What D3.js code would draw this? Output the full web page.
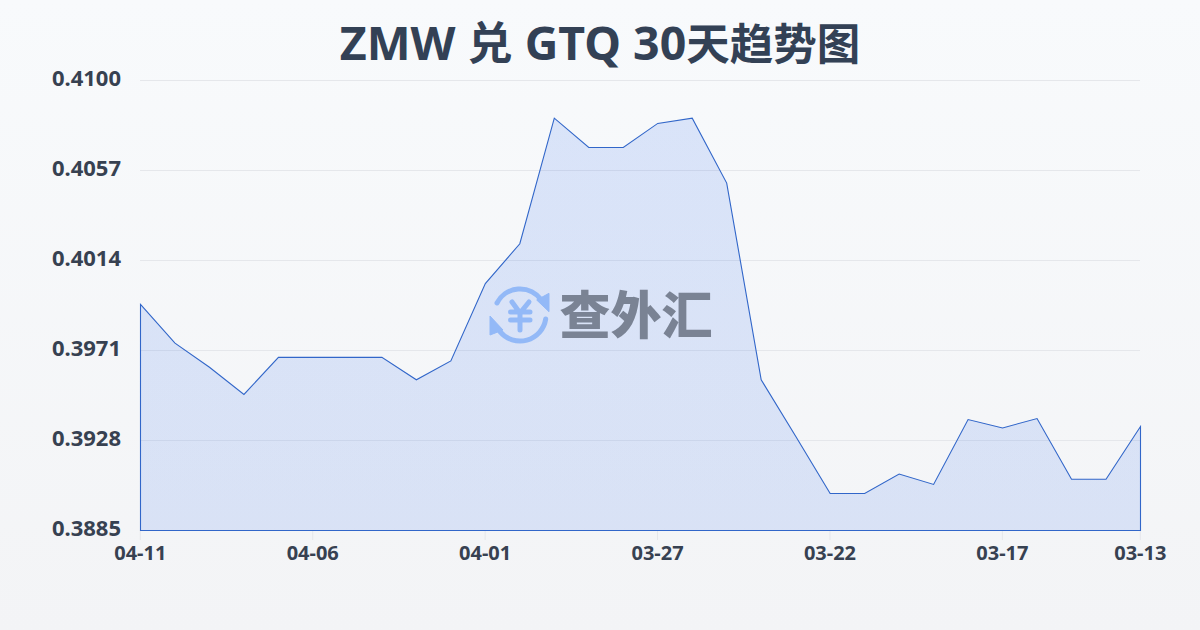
<!DOCTYPE html>
<html><head><meta charset="utf-8">
<script src="https://cdn.jsdelivr.net/npm/d3@7/dist/d3.min.js"></script>
<style>html,body{margin:0;padding:0;width:1200px;height:630px;overflow:hidden}svg{display:block}</style>
</head><body><svg id="c" width="1200" height="630"></svg>
<script>
const titleParts = [["ZMW ",46.5],["兑",45],[" GTQ 30",46.5],["天趋势图",43.5]];
const dates = ["04-11","04-10","04-09","04-08","04-07","04-06","04-05","04-04","04-03","04-02","04-01","03-31","03-30","03-29","03-28","03-27","03-26","03-25","03-24","03-23","03-22","03-21","03-20","03-19","03-18","03-17","03-16","03-15","03-14","03-13"];
const rates = [0.3993,0.39745,0.3963,0.3950,0.39677,0.39677,0.39677,0.39677,0.3957,0.3966,0.4003,0.4022,0.4082,0.4068,0.4068,0.40795,0.4082,0.4051,0.3957,0.3930,0.39027,0.39027,0.3912,0.3907,0.3938,0.3934,0.39385,0.39095,0.39095,0.39347];
const yTicks = [0.3885,0.3928,0.3971,0.4014,0.4057,0.4100];
const xTickLabels = ["04-11","04-06","04-01","03-27","03-22","03-17","03-13"];
const xTickIdx = [0,5,10,15,20,25,29];

const svg = d3.select("#c");
const defs = svg.append("defs");
const bg = defs.append("linearGradient").attr("id","bg").attr("x1",0).attr("y1",0).attr("x2",0).attr("y2",1);
bg.append("stop").attr("offset","0%").attr("stop-color","#f8fafc");
bg.append("stop").attr("offset","100%").attr("stop-color","#f3f4f6");
const ag = defs.append("linearGradient").attr("id","ag").attr("x1",0).attr("y1",0).attr("x2",0).attr("y2",1);
ag.append("stop").attr("offset","0%").attr("stop-color","#2563eb").attr("stop-opacity",0.14);
ag.append("stop").attr("offset","100%").attr("stop-color","#2563eb").attr("stop-opacity",0.13);
svg.append("rect").attr("width",1200).attr("height",630).attr("fill","url(#bg)");

const x = d3.scaleLinear().domain([0,dates.length-1]).range([140,1140]);
const y = d3.scaleLinear().domain([0.3885,0.41]).range([530,80]);
const font = "'Noto Sans','Noto Sans CJK SC',sans-serif";

svg.append("text").attr("x",600).attr("y",60).attr("text-anchor","middle")
  .attr("font-family",font).attr("font-weight",700).attr("fill","#334155")
  .selectAll("tspan").data(titleParts).join("tspan").attr("font-size",d=>d[1]).text(d=>d[0]);

svg.append("g").attr("transform","translate(0,0.5)").selectAll("line").data(yTicks.slice(1)).join("line")
  .attr("x1",140).attr("x2",1140).attr("y1",d=>y(d)).attr("y2",d=>y(d))
  .attr("stroke","#e5e7eb").attr("stroke-width",1);

const yAxis = d3.axisLeft(y).tickValues(yTicks).tickFormat(d3.format(".4f")).tickSize(0).tickPadding(19);
const gy = svg.append("g").attr("transform","translate(140,-1.5)").call(yAxis);
gy.select(".domain").remove();
gy.selectAll("text").attr("font-family",font).attr("font-size",22).attr("font-weight",700).attr("fill","#374151");

const xAxis = d3.axisBottom(x).tickValues(xTickIdx).tickFormat((d,i)=>xTickLabels[i]).tickSize(10).tickPadding(6).offset(0.3);
const gx = svg.append("g").attr("transform","translate(0,530)").call(xAxis);
gx.select(".domain").remove();
gx.selectAll("line").attr("stroke","#e5e7eb");
gx.selectAll("text").attr("font-family",font).attr("font-size",20).attr("font-weight",700).attr("fill","#374151");

const area = d3.area().x((d,i)=>x(i)).y0(y(0.3885)).y1(d=>y(d));
svg.append("path").datum(rates).attr("transform","translate(0.5,0.5)").attr("d",area).attr("fill","url(#ag)").attr("stroke","#3166c9").attr("stroke-width",1.1);

// watermark
const wmc = "#93b9f7";
const wm = svg.append("g").attr("fill","none").attr("stroke",wmc).attr("stroke-width",5).attr("stroke-linecap","round").attr("stroke-linejoin","round");
wm.append("path").attr("d","M497,303 A26,26 0 0 1 541,299.6");
wm.append("path").attr("d","M545.7,319 A26,26 0 0 1 500,331.6");
wm.append("path").attr("d","M512,302 L520,313 L529,302 M510.5,312 H530 M510.5,320 H530 M520,313 V330");
svg.append("path").attr("d","M536.7,300 L549,293.3 L549,311.7 Z M490,316 L490,335 L503,330 Z").attr("fill",wmc).attr("stroke",wmc).attr("stroke-width",1);
svg.append("text").attr("x",636).attr("y",334).attr("text-anchor","middle").attr("font-family","'Noto Sans CJK SC'").attr("font-size",51).attr("font-weight",900).attr("fill","#7a8394").text("查外汇");
</script></body></html>
